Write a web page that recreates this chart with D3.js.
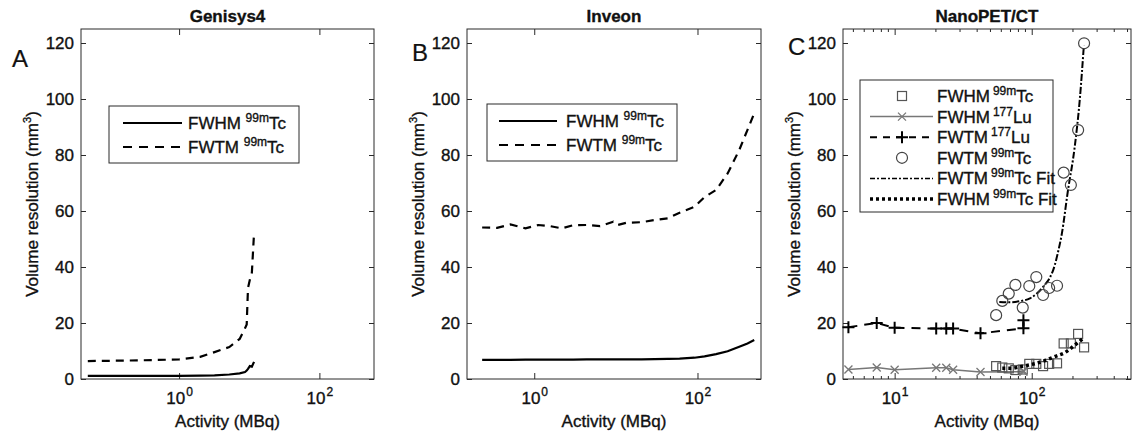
<!DOCTYPE html>
<html>
<head>
<meta charset="utf-8">
<script src="https://cdn.jsdelivr.net/npm/d3@7"></script>
<style>
  body { margin: 0; background: #fff; }
  svg text { font-family: "Liberation Sans", Arial, sans-serif; fill: #111; stroke: #111; stroke-width: 0.35px; }
</style>
</head>
<body>
<svg id="chart" width="1133" height="436"></svg>
<script>
// Genisys4
const gActivity = [0.05, 0.1, 0.2, 0.5, 1, 2, 3.2, 5.2, 7.3, 8.7, 9.2, 9.6, 10.2, 10.9, 11.7];
const gFWTM     = [6.4, 6.5, 6.6, 6.8, 7.0, 7.9, 9.6, 11.4, 14.3, 18.1, 19.5, 32.5, 35.4, 38, 52];
const gFWHM     = [1.1, 1.1, 1.1, 1.1, 1.1, 1.2, 1.3, 1.6, 2.0, 2.5, 3.0, 3.6, 4.6, 4.4, 6.1];

// Inveon
const iActivity = [0.23, 0.35, 0.51, 0.78, 1.12, 1.57, 2.18, 2.99, 4.4, 6.4, 9.3, 10.5, 13.5, 20.6, 29.9, 43.4, 60.4, 91.8, 122, 169, 234, 325, 410, 496];
const iFWTM     = [54.1, 54.0, 55.2, 53.8, 55.0, 54.6, 53.8, 54.9, 55.0, 54.6, 56.2, 55.0, 55.8, 56.0, 56.8, 57.4, 59.4, 61.5, 65, 67.5, 73.4, 81.8, 89, 94.9];
const iFWHM     = [6.8, 6.8, 6.8, 6.9, 6.9, 6.9, 6.9, 6.9, 7.0, 7.0, 7.0, 7.0, 7.0, 7.0, 7.1, 7.2, 7.3, 7.6, 8.1, 8.9, 9.9, 11.5, 12.7, 13.9];

// NanoPET/CT
const luActivity = [4.6, 7.4, 10, 20.1, 23.8, 26.7, 42.3, 87, 87];
const luFWHM     = [3.4, 4.1, 3.3, 4.0, 4.0, 3.3, 2.5, 2.6, 3.0];
const luFWTM     = [18.5, 20.0, 18.3, 18.0, 18.0, 18.0, 16.3, 18.1, 21.0];
const tcActivity = [55, 61, 68, 76, 86, 96, 108, 121, 134, 153, 171, 193, 218, 241];
const tcFWTM     = [22.8, 27.9, 30.5, 33.6, 25.5, 33.2, 36.4, 30.0, 32.5, 33.3, 73.7, 69.3, 88.9, 119.9];
const tcFWHM     = [4.6, 4.1, 3.8, 3.2, 3.4, 5.4, 5.4, 4.6, 5.4, 5.6, 12.7, 12.7, 16.1, 11.3];
const fitFwtmActivity = [58, 69, 82, 97, 109, 124, 135, 147, 155, 166, 183, 206, 224, 240];
const fitFwtm         = [27.5, 27.4, 27.8, 28.8, 30.5, 33.5, 36, 40.5, 45, 52, 66.7, 83, 99.6, 119];
const fitFwhmActivity = [61, 71, 82, 91, 108, 128, 151, 174, 206, 237];
const fitFwhm         = [3.8, 3.8, 4.4, 4.8, 5.6, 6.8, 8.2, 9.4, 12.1, 14.5];

const yTicks = [0, 20, 40, 60, 80, 100, 120];

const svg = d3.select("#chart");
const axisCol = "#2a2a2a";

function panel(o) {
  const x = d3.scaleLog().domain(o.xDomain).range([o.left, o.right]);
  const y = d3.scaleLinear().domain([0, 125]).range([o.bottom, o.top]);
  const g = svg.append("g");

  // caixa
  g.append("rect")
    .attr("x", o.left).attr("y", o.top)
    .attr("width", o.right - o.left).attr("height", o.bottom - o.top)
    .attr("fill", "none").attr("stroke", axisCol).attr("stroke-width", 1);

  // eix x inferior
  const xb = g.append("g").attr("transform", `translate(0,${o.bottom})`)
    .call(d3.axisBottom(x).tickValues(o.xTicks).tickSizeInner(-6).tickSizeOuter(0).tickPadding(13));
  xb.selectAll("text").text("").style("font-size", "17px")
    .each(function(d) {
      const t = d3.select(this);
      t.append("tspan").text("10");
      t.append("tspan").attr("dy", -8).attr("dx", 1).style("font-size", "12px").text(Math.round(Math.log10(d)));
    });
  // eix x superior
  g.append("g").attr("transform", `translate(0,${o.top})`)
    .call(d3.axisTop(x).tickValues(o.xTicks).tickSizeInner(-6).tickSizeOuter(0).tickFormat(""));

  if (o.minor) {
    [o.bottom, o.top].forEach((yy, k) => {
      g.append("g").selectAll("line").data(o.minor).enter().append("line")
        .attr("x1", d => x(d)).attr("x2", d => x(d))
        .attr("y1", yy).attr("y2", k === 0 ? yy - 3 : yy + 3)
        .attr("stroke", axisCol);
    });
  }

  g.append("g").attr("transform", `translate(${o.left},0)`)
    .call(d3.axisLeft(y).tickValues(yTicks).tickSizeInner(-5).tickSizeOuter(0).tickPadding(7))
    .selectAll("text").style("font-size", "17px");
  g.append("g").attr("transform", `translate(${o.right},0)`)
    .call(d3.axisRight(y).tickValues(yTicks).tickSizeInner(-5).tickSizeOuter(0).tickFormat(""));

  g.selectAll(".domain").remove();
  g.selectAll(".tick line").attr("stroke", axisCol);
  g.selectAll(".tick text").attr("fill", "#111");

  const cx = (o.left + o.right) / 2;
  g.append("text").attr("x", cx).attr("y", 22).attr("text-anchor", "middle")
    .style("font-size", "17px").style("font-weight", "bold").text(o.title);
  g.append("text").attr("x", cx).attr("y", 427).attr("text-anchor", "middle")
    .style("font-size", "17px").text("Activity (MBq)");

  const yl = g.append("text")
    .attr("transform", `translate(${o.left - 43},${(o.top + o.bottom) / 2}) rotate(-90)`)
    .attr("text-anchor", "middle").style("font-size", "17px");
  yl.append("tspan").text("Volume resolution (mm");
  yl.append("tspan").attr("dy", -7).style("font-size", "11px").text("3");
  yl.append("tspan").attr("dy", 7).text(")");

  g.append("text").attr("x", o.letterX).attr("y", o.letterY)
    .style("font-size", "24px").style("stroke-width", "0.2px").text(o.letter);

  return { g, x, y };
}

function addLine(p, xs, ys, style) {
  const pts = xs.map((v, i) => [v, ys[i]]);
  const line = d3.line().x(d => p.x(d[0])).y(d => p.y(d[1]));
  if (style.curve) line.curve(style.curve);
  p.g.append("path").datum(pts)
    .attr("d", line)
    .attr("fill", "none")
    .attr("stroke", style.color || "#000")
    .attr("stroke-width", style.width || 2)
    .attr("stroke-dasharray", style.dash || null);
}

function legendText(g, x, y, main, sup, rest, gap) {
  const t = g.append("text").attr("x", x).attr("y", y + 6).style("font-size", "17px");
  t.append("tspan").text(main);
  t.append("tspan").attr("dy", -7).attr("dx", gap || 0).style("font-size", "12px").text(sup);
  t.append("tspan").attr("dy", 7).text(rest);
}

// Panell A
const pA = panel({ left: 81, right: 374, top: 29, bottom: 379, xDomain: [0.04, 600], xTicks: [1, 100],
  title: "Genisys4", letter: "A", letterX: 12, letterY: 67 });
addLine(pA, gActivity, gFWHM, { width: 2.2 });
addLine(pA, gActivity, gFWTM, { width: 2.2, dash: "8,6" });

// Panell B
const pB = panel({ left: 467, right: 761, top: 29, bottom: 379, xDomain: [0.15, 600], xTicks: [1, 100],
  title: "Inveon", letter: "B", letterX: 412, letterY: 61 });
addLine(pB, iActivity, iFWHM, { width: 2.2 });
addLine(pB, iActivity, iFWTM, { width: 2.2, dash: "8,6" });

// llegendes A i B
[[pA, 109, 106, 123, 182, 188], [pB, 487, 104, 499, 557, 566]].forEach(([p, bx, by, l1, l2, tx]) => {
  p.g.append("rect").attr("x", bx).attr("y", by).attr("width", 190).attr("height", 57)
    .attr("fill", "#fff").attr("stroke", axisCol);
  p.g.append("line").attr("x1", l1).attr("x2", l2).attr("y1", by + 17).attr("y2", by + 17)
    .attr("stroke", "#000").attr("stroke-width", 2);
  p.g.append("line").attr("x1", l1).attr("x2", l2).attr("y1", by + 41).attr("y2", by + 41)
    .attr("stroke", "#000").attr("stroke-width", 2).attr("stroke-dasharray", "9,7");
  legendText(p.g, tx, by + 17, "FWHM ", "99m", "Tc");
  legendText(p.g, tx, by + 41, "FWTM ", "99m", "Tc");
});

// Panell C
const minorC = [5, 6, 7, 8, 9, 20, 30, 40, 50, 60, 70, 80, 90, 200, 300, 400, 500];
const pC = panel({ left: 843, right: 1131, top: 29, bottom: 379, xDomain: [4.2, 530], xTicks: [10, 100], minor: minorC,
  title: "NanoPET/CT", letter: "C", letterX: 788, letterY: 55 });

const grey = "#777";
addLine(pC, luActivity.slice(0, 8), luFWHM.slice(0, 8), { color: grey, width: 1.5 });
addLine(pC, luActivity, luFWTM, { width: 2, dash: "9,7" });
addLine(pC, fitFwtmActivity, fitFwtm, { width: 2, dash: "7,2,2,2", curve: d3.curveMonotoneX });

function squares(p, xs, ys) {
  p.g.append("g").selectAll("rect").data(xs).enter().append("rect")
    .attr("x", (d, i) => p.x(d) - 4.5).attr("y", (d, i) => p.y(ys[i]) - 4.5)
    .attr("width", 9).attr("height", 9)
    .attr("fill", "none").attr("stroke", "#555").attr("stroke-width", 1.2);
}
function circles(p, xs, ys) {
  p.g.append("g").selectAll("circle").data(xs).enter().append("circle")
    .attr("cx", d => p.x(d)).attr("cy", (d, i) => p.y(ys[i])).attr("r", 5.5)
    .attr("fill", "none").attr("stroke", "#444").attr("stroke-width", 1.2);
}
function crosses(p, xs, ys) {
  p.g.append("g").selectAll("path").data(xs).enter().append("path")
    .attr("transform", (d, i) => `translate(${p.x(d)},${p.y(ys[i])})`)
    .attr("d", "M-4,-4L4,4M-4,4L4,-4")
    .attr("stroke", grey).attr("stroke-width", 1.3);
}
function pluses(p, xs, ys) {
  p.g.append("g").selectAll("path").data(xs).enter().append("path")
    .attr("transform", (d, i) => `translate(${p.x(d)},${p.y(ys[i])})`)
    .attr("d", "M-6,0L6,0M0,-6L0,6")
    .attr("stroke", "#000").attr("stroke-width", 2);
}

squares(pC, tcActivity, tcFWHM);
circles(pC, tcActivity, tcFWTM);
crosses(pC, luActivity, luFWHM);
pluses(pC, luActivity, luFWTM);
addLine(pC, fitFwhmActivity, fitFwhm, { width: 3.5, dash: "3,3", curve: d3.curveMonotoneX });

// llegenda C
const lg = pC.g.append("g");
lg.append("rect").attr("x", 860).attr("y", 80).attr("width", 193).attr("height", 132)
  .attr("fill", "#fff").attr("stroke", axisCol);
const rowY = i => 96 + i * 20.6;
const lx1 = 870, lx2 = 933, mx = 902, tx = 937;
lg.append("rect").attr("x", mx - 4.5).attr("y", rowY(0) - 4.5).attr("width", 9).attr("height", 9)
  .attr("fill", "none").attr("stroke", "#555").attr("stroke-width", 1.2);
lg.append("line").attr("x1", lx1).attr("x2", lx2).attr("y1", rowY(1)).attr("y2", rowY(1))
  .attr("stroke", grey).attr("stroke-width", 1.5);
lg.append("path").attr("transform", `translate(${mx},${rowY(1)})`).attr("d", "M-4,-4L4,4M-4,4L4,-4")
  .attr("stroke", grey).attr("stroke-width", 1.3);
lg.append("line").attr("x1", lx1).attr("x2", lx2).attr("y1", rowY(2)).attr("y2", rowY(2))
  .attr("stroke", "#000").attr("stroke-width", 2).attr("stroke-dasharray", "7,6");
lg.append("path").attr("transform", `translate(${mx},${rowY(2)})`).attr("d", "M-6,0L6,0M0,-6L0,6")
  .attr("stroke", "#000").attr("stroke-width", 2);
lg.append("circle").attr("cx", mx).attr("cy", rowY(3)).attr("r", 5.5)
  .attr("fill", "none").attr("stroke", "#444").attr("stroke-width", 1.2);
lg.append("line").attr("x1", lx1).attr("x2", lx2).attr("y1", rowY(4)).attr("y2", rowY(4))
  .attr("stroke", "#000").attr("stroke-width", 1.5).attr("stroke-dasharray", "5,2,2,2");
lg.append("line").attr("x1", lx1).attr("x2", lx2).attr("y1", rowY(5)).attr("y2", rowY(5))
  .attr("stroke", "#000").attr("stroke-width", 3.5).attr("stroke-dasharray", "3,3");
legendText(lg, tx, rowY(0), "FWHM", "99m", "Tc", 3);
legendText(lg, tx, rowY(1), "FWHM", "177", "Lu", 3);
legendText(lg, tx, rowY(2), "FWTM", "177", "Lu", 3);
legendText(lg, tx, rowY(3), "FWTM", "99m", "Tc", 3);
legendText(lg, tx, rowY(4), "FWTM", "99m", "Tc Fit", 3);
legendText(lg, tx, rowY(5), "FWHM", "99m", "Tc Fit", 3);
</script>
</body>
</html>
